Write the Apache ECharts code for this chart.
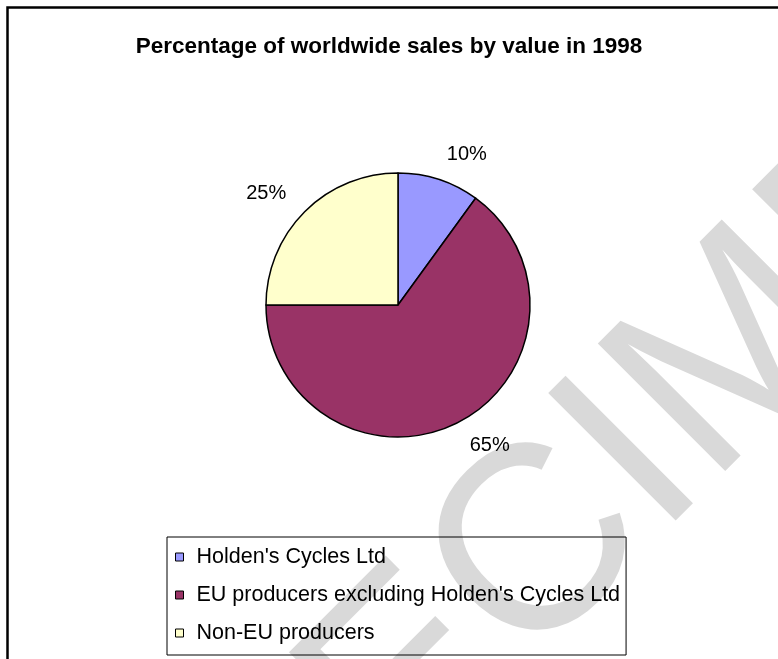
<!DOCTYPE html>
<html>
<head>
<meta charset="utf-8">
<script src="https://cdn.jsdelivr.net/npm/echarts@6/dist/echarts.min.js"></script>
<style>
html,body{margin:0;padding:0;background:#fff;}
#chart{width:778px;height:659px;}
</style>
</head>
<body>
<div id="chart"></div>
<script>
const titleText = 'Percentage of worldwide sales by value in 1998';
const categories = ["Holden's Cycles Ltd", "EU producers excluding Holden's Cycles Ltd", "Non-EU producers"];
const values = [10, 65, 25];
const colors = ['#9999FF', '#993366', '#FFFFCC'];
const watermarkText = 'SPECIMEN';

const FONT = '"Liberation Sans", Arial, Helvetica, sans-serif';
const chart = echarts.init(document.getElementById('chart'), null, {renderer: 'canvas'});

const pieData = categories.map((name, i) => ({
  name: name,
  value: values[i],
  itemStyle: {color: colors[i]}
}));

const option = {
  backgroundColor: '#ffffff',
  animation: false,
  title: {
    text: titleText,
    left: 'center',
    top: 30,
    textStyle: {fontFamily: FONT, fontSize: 22.5, fontWeight: 'bold', color: '#000'}
  },
  graphic: [
    {
      type: 'text',
      z: -10,
      x: 103,
      y: 991,
      rotation: Math.PI / 4,
      silent: true,
      style: {
        text: watermarkText,
        fontFamily: FONT,
        fontSize: 262,
        fill: '#d9d9d9',
        align: 'left',
        verticalAlign: 'middle'
      }
    },
    {
      type: 'polyline',
      z: -5,
      silent: true,
      shape: {points: [[7.5, 700], [7.5, 7.5], [800, 7.5]]},
      style: {stroke: '#000', lineWidth: 2.5, fill: null}
    }
  ],
  legend: {
    orient: 'vertical',
    left: 167,
    top: 537,
    padding: [9, 6, 11, 8],
    borderColor: '#000',
    borderWidth: 1,
    icon: 'rect',
    itemWidth: 8,
    itemHeight: 8,
    itemGap: 16,
    itemStyle: {borderColor: '#000', borderWidth: 1},
    textStyle: {fontFamily: FONT, fontSize: 21.5, lineHeight: 20, color: '#000', padding: [0, 0, 0, 8]},
    data: categories
  },
  series: [{
    type: 'pie',
    center: [398, 305],
    radius: 132,
    startAngle: 90,
    clockwise: true,
    avoidLabelOverlap: false,
    itemStyle: {borderColor: '#000', borderWidth: 1.5},
    label: {
      show: true,
      position: 'outside',
      distanceToLabelLine: 0,
      fontFamily: FONT,
      fontSize: 20,
      color: '#000',
      formatter: p => p.value + '%'
    },
    labelLine: {show: false, length: 26, length2: 0},
    emphasis: {disabled: true},
    data: pieData
  }]
};
chart.setOption(option);
</script>
</body>
</html>
